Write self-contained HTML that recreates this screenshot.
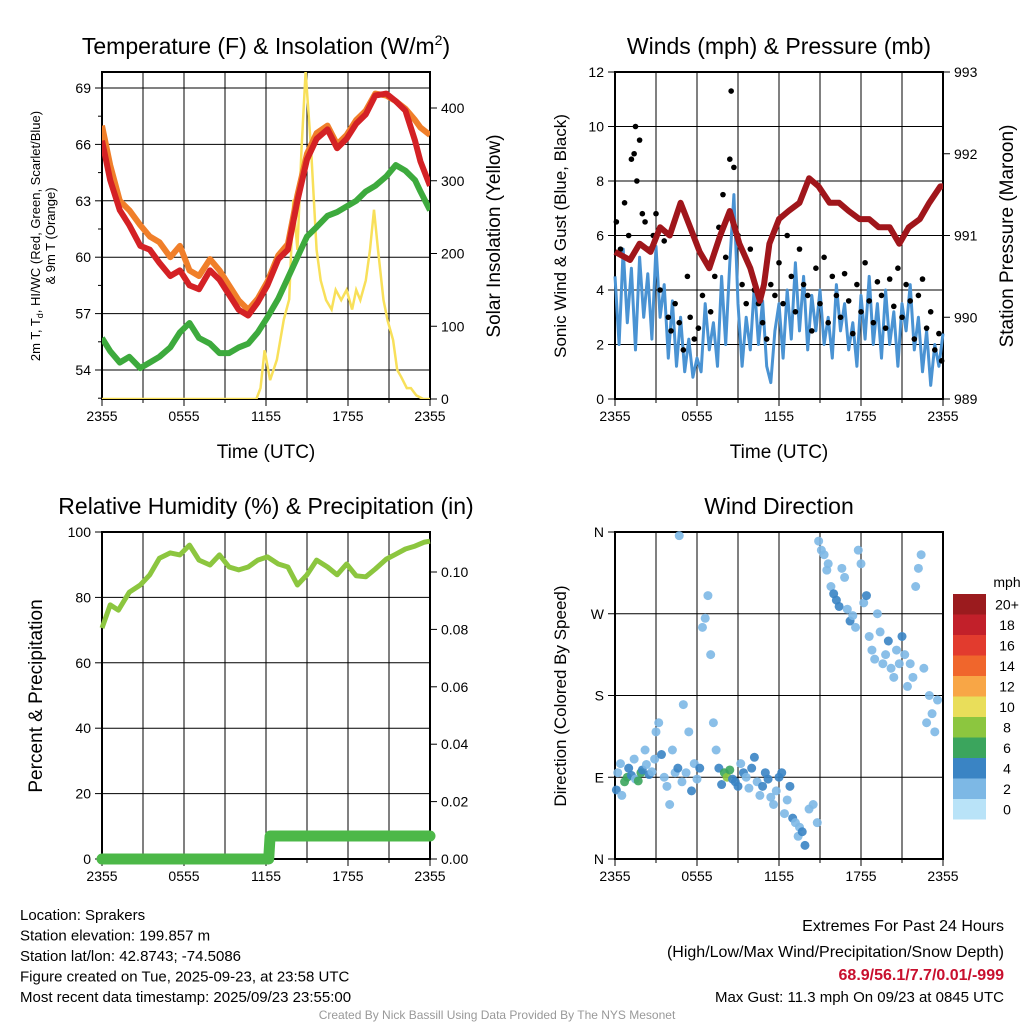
<!DOCTYPE html>
<html><head><meta charset="utf-8">
<style>
html,body{margin:0;padding:0;background:#fff;}
body{width:1024px;height:1024px;overflow:hidden;position:relative;font-family:"Liberation Sans",Arial,sans-serif;}
svg text{font-family:"Liberation Sans",Arial,sans-serif;}
</style></head>
<body>
<svg id="chart" width="1024" height="1024" viewBox="0 0 1024 1024" xmlns="http://www.w3.org/2000/svg"></svg>
<script>
// ---------- DATA ----------
const tempTimes=[0,0.6,1.3,2.0,2.8,3.5,4.2,5.0,5.7,6.4,7.1,7.9,8.6,9.3,10.0,10.7,11.4,12.1,12.9,13.6,14.3,15.0,15.7,16.5,17.2,17.9,18.6,19.3,20.0,20.8,21.5,22.2,22.9,23.3,24];
const tempRed=[66.2,64.1,62.5,61.7,60.6,60.4,59.7,59.0,59.3,58.5,58.3,59.3,58.8,58.0,57.2,56.9,57.6,58.5,59.9,60.4,63.0,65.2,66.3,66.8,65.8,66.3,67.1,67.6,68.6,68.7,68.3,67.8,66.2,65.1,63.8];
const tempOrange=[67.0,64.9,63.0,62.5,61.7,61.1,60.8,60.0,60.6,59.3,59.0,59.9,59.3,58.5,57.7,57.2,57.8,58.7,60.1,60.7,63.3,65.5,66.6,67.0,66.0,66.5,67.3,67.8,68.7,68.6,68.3,67.9,67.3,66.9,66.5];
const tempGreen=[55.7,55.0,54.4,54.7,54.1,54.4,54.7,55.2,56.0,56.5,55.7,55.4,54.9,54.9,55.2,55.4,56.0,56.8,57.8,58.9,60.0,61.1,61.6,62.2,62.4,62.7,63.0,63.5,63.8,64.3,64.9,64.6,64.1,63.5,62.5];
const solarTimes=[0,11.3,11.6,11.9,12.3,12.8,13.3,13.7,14.0,14.3,14.6,14.9,15.3,15.7,16.0,16.4,16.8,17.1,17.5,17.9,18.3,18.6,18.9,19.3,19.6,19.9,20.2,20.6,20.9,21.3,21.6,21.9,22.3,22.6,23.0,23.5,24];
const solarValues=[0,0,15,67,26,54,109,137,274,205,343,450,343,205,163,136,123,150,136,150,123,150,136,163,204,260,204,136,108,81,40,30,15,15,5,0,0];

const windTimes=[0,0.3,0.6,0.9,1.2,1.5,1.8,2.1,2.4,2.7,3.0,3.3,3.6,3.9,4.2,4.5,4.8,5.1,5.4,5.7,6.0,6.3,6.6,6.9,7.2,7.5,7.8,8.1,8.4,8.7,9.0,9.3,9.6,9.9,10.2,10.5,10.8,11.1,11.4,11.7,12.0,12.3,12.6,12.9,13.2,13.5,13.8,14.1,14.4,14.7,15.0,15.3,15.6,15.9,16.2,16.5,16.8,17.1,17.4,17.7,18.0,18.3,18.6,18.9,19.2,19.5,19.8,20.1,20.4,20.7,21.0,21.3,21.6,21.9,22.2,22.5,22.8,23.1,23.4,23.7,24];
const windSpeed=[4.5,2.0,5.5,2.8,4.8,1.8,5.2,3.0,4.6,2.2,5.6,3.0,4.2,1.5,3.6,1.2,3.0,1.0,2.2,0.8,1.5,1.0,3.5,1.8,2.8,1.2,4.5,2.0,5.0,7.5,3.5,1.2,3.0,1.8,4.2,2.0,3.6,1.2,0.6,2.5,3.5,1.5,4.0,2.2,5.0,2.5,4.5,1.8,3.8,2.5,4.0,2.0,3.0,1.5,4.2,2.5,3.5,1.8,2.8,1.2,3.8,2.2,4.5,2.0,3.5,1.5,4.0,2.0,3.2,1.2,3.5,2.5,4.2,1.8,3.0,1.0,2.5,0.5,2.0,1.2,2.4];
const gustTimes=[0.1,0.4,0.7,1.0,1.2,1.4,1.5,1.6,1.8,2.0,2.2,2.5,2.8,3.0,3.3,3.6,3.9,4.1,4.4,4.7,5.0,5.3,5.5,5.8,6.1,6.4,6.7,7.0,7.3,7.6,7.9,8.1,8.4,8.5,8.7,9.0,9.3,9.6,9.9,10.2,10.5,10.8,11.1,11.4,11.7,12.0,12.3,12.6,12.9,13.2,13.5,13.8,14.1,14.4,14.7,15.0,15.3,15.6,15.9,16.2,16.5,16.8,17.1,17.4,17.7,18.0,18.3,18.6,18.9,19.2,19.5,19.8,20.1,20.4,20.7,21.0,21.3,21.6,21.9,22.2,22.5,22.8,23.1,23.4,23.7,23.9];
const gustSpeed=[6.5,5.5,7.2,6.0,8.8,9.0,10.0,8.0,9.5,6.8,6.5,5.5,6.0,6.8,4.0,5.8,3.0,2.5,3.5,2.8,1.8,4.5,3.0,2.2,2.6,3.8,5.0,3.2,4.5,6.3,7.5,5.2,8.8,11.3,8.5,6.0,4.2,3.5,5.5,4.0,3.5,2.8,2.2,4.2,3.8,5.0,3.5,6.0,4.5,3.2,5.5,4.2,3.8,2.5,4.8,3.5,5.2,2.8,4.5,3.8,3.0,4.6,3.6,2.4,4.2,3.2,5.0,3.6,2.8,4.3,3.8,2.6,4.4,3.4,4.8,3.0,4.2,3.6,2.2,3.8,4.4,2.6,3.2,1.8,2.4,1.4];
const pressTimes=[0,1.1,1.8,2.6,3.3,4.0,4.8,5.5,6.2,6.9,7.7,8.4,9.1,9.9,10.6,10.9,11.3,12.0,12.7,13.5,14.2,14.9,15.7,16.4,17.1,17.9,18.6,19.3,20.1,20.8,21.5,22.3,23.0,23.8,24];
const pressValues=[990.8,990.7,990.9,990.8,991.1,991.0,991.4,991.1,990.8,990.6,991.0,991.3,990.9,990.6,990.2,990.4,990.9,991.2,991.3,991.4,991.7,991.6,991.4,991.4,991.3,991.2,991.2,991.1,991.1,990.9,991.1,991.2,991.4,991.6,991.6];

const rhTimes=[0,0.6,1.2,2.0,2.8,3.5,4.2,5.0,5.7,6.4,7.1,7.9,8.6,9.3,10.0,10.7,11.4,12.1,12.9,13.6,14.3,15.0,15.7,16.5,17.2,17.9,18.6,19.3,20.0,20.8,21.5,22.2,22.9,23.6,24];
const rhValues=[70.6,77.7,76.1,81.6,83.8,86.9,92.0,93.6,93.0,96.0,91.4,89.9,93.0,89.3,88.4,89.3,91.4,92.4,90.2,89.3,83.8,86.9,91.4,89.3,86.9,90.2,86.6,86.3,88.7,91.7,93.2,94.8,95.7,96.9,97.2];
const precipTimes=[0,12.2,12.3,24];
const precipValues=[0,0,0.008,0.008];

const dirTimes=[0.1,0.2,0.4,0.5,0.7,0.9,1.0,1.2,1.4,1.5,1.7,1.9,2.0,2.2,2.3,2.5,2.7,2.9,3.0,3.2,3.4,3.6,3.8,4.0,4.2,4.4,4.6,4.7,4.9,5.0,5.2,5.4,5.6,5.8,6.0,6.2,6.4,6.6,6.8,7.0,7.2,7.4,7.6,7.8,8.0,8.2,8.4,8.6,8.8,9.0,9.2,9.4,9.6,9.8,10.0,10.2,10.4,10.6,10.8,11.0,11.2,11.4,11.6,11.8,12.0,12.2,12.4,12.6,12.8,13.0,13.2,13.4,13.5,13.7,13.9,14.2,14.5,14.8,14.9,15.1,15.3,15.5,15.6,15.8,16.0,16.2,16.4,16.6,16.8,17.0,17.2,17.4,17.6,17.8,18.0,18.2,18.4,18.6,18.8,19.0,19.2,19.4,19.6,19.8,20.0,20.2,20.4,20.6,20.8,21.0,21.2,21.4,21.6,21.8,22.0,22.2,22.4,22.6,22.8,23.0,23.2,23.4,23.6,23.8,23.9];
const dirValues=[76,95,105,70,85,90,100,92,110,88,86,95,98,120,104,93,96,110,140,150,115,90,80,60,120,95,100,356,85,170,95,140,75,105,88,100,255,265,290,225,150,120,100,82,95,90,98,88,85,80,105,95,90,78,100,112,85,70,80,95,88,68,60,75,90,95,50,65,80,45,40,25,35,30,15,55,60,40,350,340,335,318,325,300,292,285,278,320,310,275,262,268,255,340,325,282,290,245,230,220,270,250,215,225,240,210,200,230,215,245,225,190,215,200,300,320,335,210,150,180,160,140,175];
const dirSpeed=[3,2,1,2,6,6,4,3,2,2,5,6,4,2,1,3,2,1,2,2,3,1,2,2,2,1,3,1,1,1,2,2,4,2,1,3,2,2,1,1,2,2,3,4,5,8,6,4,3,4,2,3,2,1,4,3,2,1,3,3,4,2,2,1,3,4,2,2,3,3,2,2,2,3,4,1,2,2,2,2,2,2,2,2,3,4,3,2,2,2,3,2,2,1,2,2,3,2,2,1,1,2,2,2,4,2,1,2,2,3,2,2,1,1,2,2,1,1,2,2,1,2,1,3,3];

const speedLevels=["20+","18","16","14","12","10","8","6","4","2","0"];
const speedColors=["#9b1b1e","#c2202a","#e23b2e","#f0662c","#f8a646","#e9de5a","#8cc63f","#3ba55d","#3a84c4","#7db8e5","#b9e3f8"];

// ---------- HELPERS ----------
const svg=document.getElementById('chart');
const NS='http://www.w3.org/2000/svg';
function mk(tag,attrs,parent){const e=document.createElementNS(NS,tag);for(const k in attrs)e.setAttribute(k,attrs[k]);(parent||svg).appendChild(e);return e;}
function txt(x,y,s,size,anchor,parent,extra){const t=mk('text',Object.assign({x:x,y:y,'font-size':size,'text-anchor':anchor||'middle',fill:'#000'},extra||{}),parent);t.textContent=s;return t;}
function lin(d0,d1,r0,r1){return v=>r0+(v-d0)*(r1-r0)/(d1-d0);}
function pathFrom(xs,ys,sx,sy){return xs.map((t,i)=>(i?'L':'M')+sx(t).toFixed(1)+','+sy(ys[i]).toFixed(1)).join('');}

const timeLabels=["2355","0555","1155","1755","2355"];
function panel(name,x0,y0,w,h,title,hGridPx){
  const g=mk('g',{});
  
  
  for(let i=1;i<8;i++){const x=x0+w*i/8;mk('line',{x1:x,y1:y0,x2:x,y2:y0+h,stroke:'#000','stroke-width':1},g);}
  hGridPx.forEach(y=>mk('line',{x1:x0,y1:y,x2:x0+w,y2:y,stroke:'#000','stroke-width':1},g));
  mk('rect',{x:x0,y:y0,width:w,height:h,fill:'none',stroke:'#000','stroke-width':2},g);
  for(let i=0;i<=8;i++){const x=x0+w*i/8;mk('line',{x1:x,y1:y0+h,x2:x,y2:y0+h+(i%2?4:7),stroke:'#000','stroke-width':1},g);}
  timeLabels.forEach((s,i)=>{const l=txt(x0+w*i/4,y0+h+22,s,14,'middle',g);});
  if(title){const tt=txt(x0+w/2,y0-18,title,23,'middle',g);
  
  }
  return g;
}
function leftTicks(g,x0,vals,sy,labels){
  vals.forEach((v,i)=>{const y=sy(v);mk('line',{x1:x0-7,y1:y,x2:x0,y2:y,stroke:'#000'},g);const l=txt(x0-11,y+5,labels[i],14,'end',g);});
}
function rightTicks(g,x1,vals,sy,labels){
  vals.forEach((v,i)=>{const y=sy(v);mk('line',{x1:x1,y1:y,x2:x1+7,y2:y,stroke:'#000'},g);const l=txt(x1+11,y+5,labels[i],14,'start',g);});
}
function vTitle(x,y,s,size,g){const t=txt(x,y,s,size,'middle',g,{transform:'rotate(-90 '+x+' '+y+')'});return t;}

// ---------- PANEL 1: TEMPERATURE ----------
(function(){
  const x0=102,y0=72,w=328,h=327;
  const sx=lin(0,24,x0,x0+w);
  const sy=lin(54,69,370,88);
  const sy2=lin(0,400,399,108);
  const tv=[54,57,60,63,66,69];
  const g=panel('temperature-panel',x0,y0,w,h,'',tv.map(sy));
  const t=txt(x0+w/2,y0-18,'',23,'middle',g);
  
  
  t.innerHTML='Temperature (F) &amp; Insolation (W/m<tspan dy="-9" font-size="14">2</tspan><tspan dy="9">)</tspan>';
  leftTicks(g,x0,tv,sy,tv.map(String));
  for(let v=52.5;v<70;v+=1.5){if(Math.abs((v-54)%3)>0.1){const y=sy(v);if(y>y0&&y<y0+h)mk('line',{x1:x0-4,y1:y,x2:x0,y2:y,stroke:'#000'},g);}}
  const sv=[0,100,200,300,400];
  rightTicks(g,x0+w,sv,sy2,sv.map(String));
  const xl=txt(x0+w/2,y0+h+59,'Time (UTC)',19,'middle',g);
  const a=vTitle(40,236,'',13,g);a.innerHTML='2m T, T<tspan font-size="9" dy="3">d</tspan><tspan dy="-3">, HI/WC (Red, Green, Scarlet/Blue)</tspan>';
  
  const b=vTitle(55,236,'& 9m T (Orange)',13,g);
  const c=vTitle(500,236,'Solar Insolation (Yellow)',19,g);
  const clip=mk('clipPath',{id:'c1'},g);mk('rect',{x:x0,y:y0,width:w,height:h},clip);
  const sol=mk('path',{d:pathFrom(solarTimes,solarValues,sx,sy2),fill:'none',stroke:'#f8e05a','stroke-width':2.5,'clip-path':'url(#c1)'},g);
  
  const o=mk('path',{d:pathFrom(tempTimes,tempOrange,sx,sy),fill:'none',stroke:'#f07f2a','stroke-width':6,'stroke-linejoin':'round','clip-path':'url(#c1)'},g);
  
  const r=mk('path',{d:pathFrom(tempTimes,tempRed,sx,sy),fill:'none',stroke:'#d42125','stroke-width':6,'stroke-linejoin':'round','clip-path':'url(#c1)'},g);
  
  const gr=mk('path',{d:pathFrom(tempTimes,tempGreen,sx,sy),fill:'none',stroke:'#3daa3d','stroke-width':6,'stroke-linejoin':'round','clip-path':'url(#c1)'},g);
  
})();

// ---------- PANEL 2: WINDS ----------
(function(){
  const x0=615,y0=72,w=328,h=327;
  const sx=lin(0,24,x0,x0+w);
  const sy=lin(0,12,399,72);
  const sy2=lin(989,993,399,72);
  const lv=[0,2,4,6,8,10,12];
  const g=panel('winds-panel',x0,y0,w,h,'Winds (mph) & Pressure (mb)',lv.map(sy));
  leftTicks(g,x0,lv,sy,lv.map(String));
  const pv=[989,990,991,992,993];
  rightTicks(g,x0+w,pv,sy2,pv.map(String));
  const xl=txt(x0+w/2,y0+h+59,'Time (UTC)',19,'middle',g);
  const a=vTitle(566,236,'Sonic Wind & Gust (Blue, Black)',17,g);
  const c=vTitle(1013,236,'Station Pressure (Maroon)',19,g);
  const wl=mk('path',{d:pathFrom(windTimes,windSpeed,sx,sy),fill:'none',stroke:'#4a93d3','stroke-width':3,'stroke-linejoin':'round'},g);
  
  gustTimes.forEach((t,i)=>{
    if(gustSpeed[i]===undefined)return;
    const d=mk('circle',{cx:sx(t),cy:sy(gustSpeed[i]),r:2.8,fill:'#000'},g);
    
    
  });
  const p=mk('path',{d:pathFrom(pressTimes,pressValues,sx,sy2),fill:'none',stroke:'#a0161b','stroke-width':6,'stroke-linejoin':'round'},g);
  
})();

// ---------- PANEL 3: RH ----------
(function(){
  const x0=102,y0=532,w=328,h=327;
  const sx=lin(0,24,x0,x0+w);
  const sy=lin(0,100,859,532);
  const sy2=lin(0,0.10,859,572);
  const lv=[0,20,40,60,80,100];
  const g=panel('humidity-panel',x0,y0,w,h,'Relative Humidity (%) & Precipitation (in)',lv.map(sy));
  leftTicks(g,x0,lv,sy,lv.map(String));
  const pv=[0,0.02,0.04,0.06,0.08,0.10];
  rightTicks(g,x0+w,pv,sy2,pv.map(v=>v.toFixed(2)));
  const a=vTitle(42,696,'Percent & Precipitation',19,g);
  const pr=mk('path',{d:pathFrom(precipTimes,precipValues,sx,sy2),fill:'none',stroke:'#4cb848','stroke-width':11,'stroke-linejoin':'round','stroke-linecap':'round'},g);
  
  const rh=mk('path',{d:pathFrom(rhTimes,rhValues,sx,sy),fill:'none',stroke:'#8cc63f','stroke-width':5,'stroke-linejoin':'round'},g);
  
})();

// ---------- PANEL 4: WIND DIRECTION ----------
(function(){
  const x0=615,y0=532,w=328,h=327;
  const sx=lin(0,24,x0,x0+w);
  const sy=lin(0,360,859,532);
  const dv=[0,90,180,270,360];
  const g=panel('wind-direction-panel',x0,y0,w,h,'Wind Direction',dv.map(sy));
  leftTicks(g,x0,dv,sy,['N','E','S','W','N']);
  const a=vTitle(566,696,'Direction (Colored By Speed)',17,g);
  function col(s){const idx=Math.min(10,Math.max(0,Math.round(s/2)));return speedColors[10-idx];}
  dirTimes.forEach((t,i)=>{
    if(dirValues[i]===undefined||dirSpeed[i]===undefined)return;
    const d=mk('circle',{cx:sx(t),cy:sy(dirValues[i]),r:4.5,fill:col(dirSpeed[i]),'fill-opacity':0.9},g);
    
    
  });
  const cb=mk('g',{});
  
  
  txt(1007,587,'mph',14,'middle',cb);
  const bh=20.5;
  speedLevels.forEach((s,i)=>{
    const y=594+i*bh;
    const r=mk('rect',{x:953,y:y,width:33,height:bh,fill:speedColors[i]},cb);
    
    
    txt(1007,y+bh/2+5,s,14,'middle',cb);
  });
})();

// ---------- FOOTER ----------
const leftInfo=["Location: Sprakers","Station elevation: 199.857 m","Station lat/lon: 42.8743; -74.5086","Figure created on Tue, 2025-09-23, at 23:58 UTC","Most recent data timestamp: 2025/09/23 23:55:00"];
leftInfo.forEach((s,i)=>{const t=txt(20,920+i*20.5,s,15,'start');});
const r1=txt(1004,931,'Extremes For Past 24 Hours',16,'end');
const r2=txt(1004,957,'(High/Low/Max Wind/Precipitation/Snow Depth)',16,'end');
const r3=txt(1004,980,'68.9/56.1/7.7/0.01/-999',16,'end',null,{fill:'#c8102e','font-weight':'bold'});
const r4=txt(1004,1002,'Max Gust: 11.3 mph On 09/23 at 0845 UTC',15,'end');
const cr=txt(497,1019,'Created By Nick Bassill Using Data Provided By The NYS Mesonet',12,'middle',null,{fill:'#999'});
</script>
</body></html>
